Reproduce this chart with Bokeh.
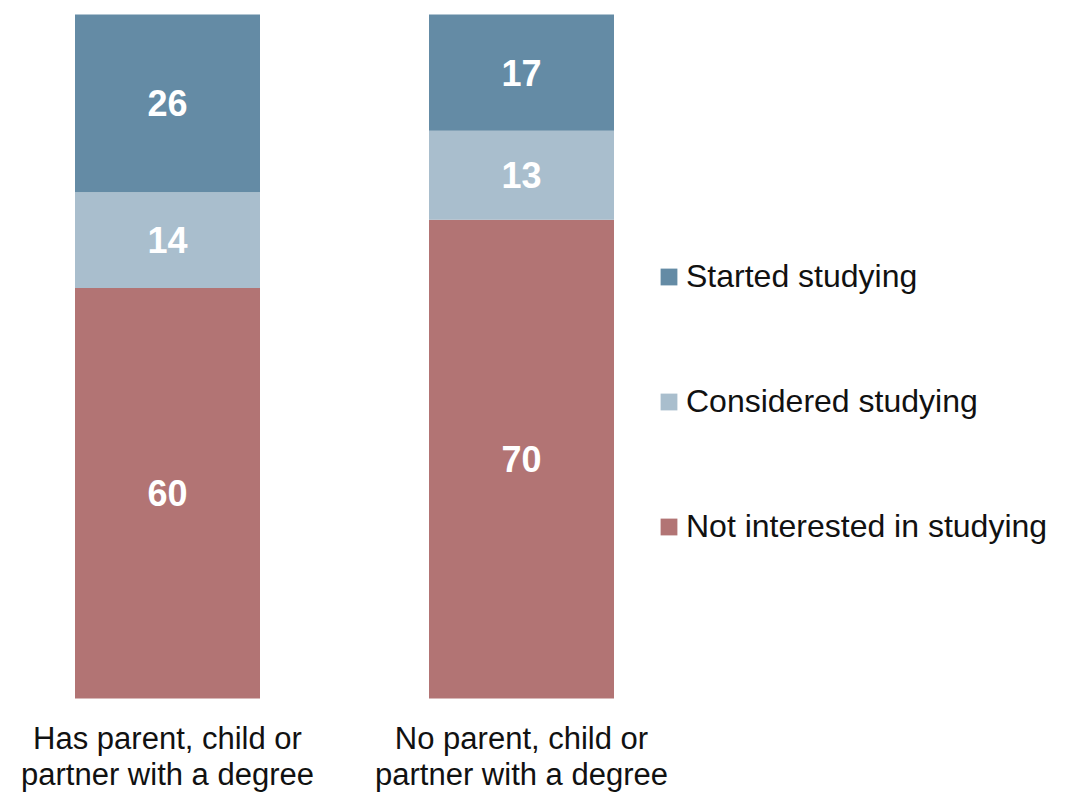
from bokeh.plotting import figure
from bokeh.models import ColumnDataSource, Legend, LegendItem, Range1d
from bokeh.core.properties import value
from bokeh.embed import file_html
from bokeh.resources import INLINE

categories = ["Has parent, child or\npartner with a degree", "No parent, child or\npartner with a degree"]
series = ["Not interested in studying", "Considered studying", "Started studying"]
not_interested = [60, 70]
considered = [14, 13]
started = [26, 17]
colors = ["#B27474", "#A9BECD", "#648BA5"]

W, H = 1080, 794
px_per_x = 354.0
x0_px = 167.0
y_zero_px = 698.0
px_per_y = 6.84

p = figure(width=W, height=H, output_backend="svg", toolbar_location=None,
           min_border=0, min_border_left=0, min_border_right=0,
           min_border_top=0, min_border_bottom=0)
p.x_range = Range1d(-x0_px / px_per_x, (W - x0_px) / px_per_x)
p.y_range = Range1d(-(H - y_zero_px) / px_per_y, y_zero_px / px_per_y)
p.xaxis.visible = False
p.yaxis.visible = False
p.grid.visible = False
p.outline_line_color = None
p.background_fill_color = "white"
p.border_fill_color = "white"

xs = list(range(len(categories)))
data = {"x": xs, series[0]: not_interested, series[1]: considered, series[2]: started}
src = ColumnDataSource(data)
bar_w = 185.0 / px_per_x
renderers = p.vbar_stack(series, x="x", width=bar_w, color=colors, source=src, line_color=None)

# value labels
lx, ly, lt = [], [], []
for i in xs:
    base = 0
    for vals in (not_interested, considered, started):
        v = vals[i]
        lx.append(i)
        ly.append(base + v / 2)
        lt.append(str(v))
        base += v
p.text(x=lx, y=ly, text=lt, text_align="center", text_baseline="middle",
       text_color="white", text_font=value("Liberation Sans"), text_font_style="bold",
       text_font_size="36px")

# category labels
cat_y = -(756 - y_zero_px) / px_per_y
p.text(x=xs, y=[cat_y] * len(xs), text=categories, text_align="center", text_baseline="middle",
       text_color="#111111", text_font=value("Liberation Sans"), text_font_size="31px",
       text_line_height=1.05)

items = [LegendItem(label=series[k], renderers=[renderers[k]]) for k in (2, 1, 0)]
legend = Legend(items=items, location=(658, 249), orientation="vertical",
                glyph_width=21, glyph_height=21, label_standoff=7, spacing=88,
                padding=0, margin=0, border_line_color=None, background_fill_alpha=0,
                label_text_font="Liberation Sans", label_text_font_size="32px",
                label_text_color="#111111")
p.add_layout(legend, "center")

open("out.html", "w").write(file_html(p, INLINE))
